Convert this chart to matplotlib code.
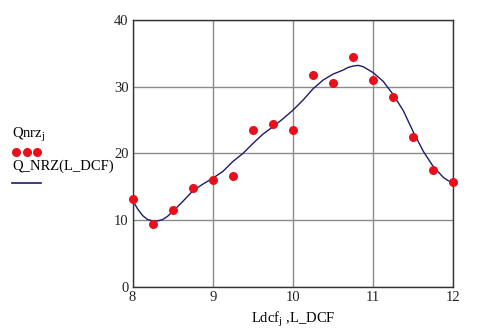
import matplotlib
matplotlib.use("Agg")
import matplotlib.pyplot as plt
from matplotlib.lines import Line2D

# measured points
ldcf = [8.0, 8.25, 8.5, 8.75, 9.0, 9.25, 9.5, 9.75, 10.0, 10.25, 10.5, 10.75,
        11.0, 11.25, 11.5, 11.75, 12.0]
qnrz = [13.2, 9.4, 11.6, 14.8, 16.0, 16.7, 23.5, 24.4, 23.5, 31.8, 30.5, 34.5,
        31.0, 28.5, 22.4, 17.6, 15.7]

# fitted curve Q_NRZ(L_DCF)
l_dcf = [8.0, 8.0625, 8.125, 8.1875, 8.25, 8.3125, 8.375, 8.4375, 8.5, 8.625,
         8.75, 8.875, 9.0, 9.125, 9.25, 9.375, 9.5, 9.625, 9.75, 9.875, 10.0,
         10.125, 10.25, 10.375, 10.5, 10.625, 10.6875, 10.75, 10.8125, 10.875,
         11.0, 11.125, 11.25, 11.375, 11.5, 11.625, 11.75, 11.875, 11.9375, 12.0]
q_nrz = [13.0, 11.7, 10.7, 10.1, 9.9, 9.9, 10.1, 10.6, 11.3, 12.8,
         14.4, 15.4, 16.3, 17.3, 18.8, 20.0, 21.5, 22.9, 24.0, 25.2, 26.5,
         28.0, 29.7, 31.0, 31.9, 32.5, 32.9, 33.1, 33.2, 33.0,
         32.1, 30.8, 28.8, 26.4, 23.2, 20.3, 18.0, 16.4, 15.9, 15.7]

xticks = [8, 9, 10, 11, 12]
yticks = [0, 10, 20, 30, 40]

plt.rcParams['font.family'] = ['Liberation Serif', 'DejaVu Serif']

fig = plt.figure(figsize=(4.91, 3.31), dpi=100)
ax = fig.add_axes([0.270, 0.133, 0.6536, 0.8066])

ax.plot(l_dcf, q_nrz, color='#1c1c6a', lw=1.0, zorder=3)
ax.plot(ldcf, qnrz, 'o', color='#e8101a', markersize=6.5, markeredgewidth=0,
        zorder=4, clip_on=False)

ax.set_xlim(8, 12)
ax.set_ylim(0, 40)
ax.set_xticks(xticks)
ax.set_yticks(yticks)
ax.set_xticklabels([str(v) for v in xticks], fontsize=10.5)
ax.set_yticklabels([str(v) for v in yticks], fontsize=10.5)
ax.tick_params(length=0, pad=3, colors='#222222')
ax.grid(True, color='#8a8a8a', lw=1.0)
ax.set_axisbelow(True)
for s in ax.spines.values():
    s.set_color('#333333')
    s.set_linewidth(1.0)

ax.set_xlabel("Ldcf$_{\\mathregular{j}}$ ,L_DCF", fontsize=10.5, labelpad=4)

# legend-like annotations on left
fig.text(12/491, 1-135/331, "Qnrz$_{\\mathregular{j}}$", fontsize=10.5,
         va='center', ha='left')
for xd in [16, 26.5, 37]:
    fig.add_artist(Line2D([xd/491], [1-151.5/331], marker='o', color='#e8101a',
                          markersize=6.5, markeredgewidth=0, linestyle='none'))
fig.text(12/491, 1-166/331, "Q_NRZ(L_DCF)", fontsize=10.5, va='center', ha='left')
fig.add_artist(Line2D([12/491, 41/491], [1-183/331, 1-183/331],
                      color='#1c1c6a', lw=1.2))

fig.savefig("out.png", dpi=100)
